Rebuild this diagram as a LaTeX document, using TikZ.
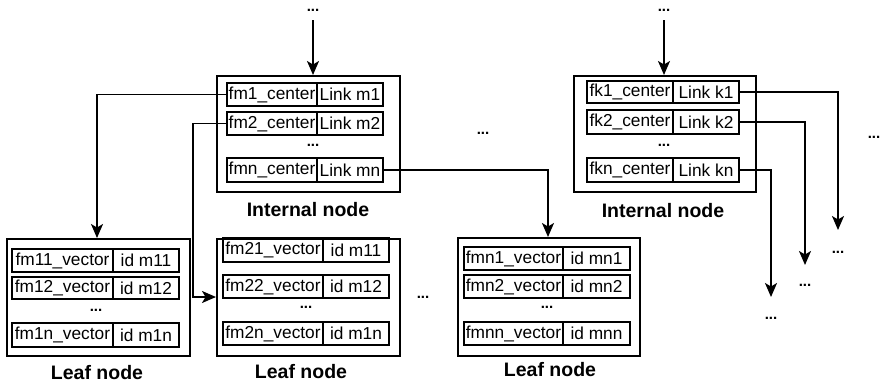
\documentclass[tikz,border=0pt]{standalone}
\usepackage{fontspec}
\setmainfont{Liberation Sans}
\usetikzlibrary{arrows.meta}

% row of a record: #1 name, #2 x, #3 y (top), #4 left width, #5 right width, #6 height, #7 left text, #8 right text
\newcommand{\recrow}[8]{%
  \node[cell, anchor=north west, minimum width=#4, minimum height=#6] (#1a) at (#2,#3) {#7};
  \node[cell, anchor=north west, minimum width=#5, minimum height=#6] (#1b) at (#1a.north east) {#8};
}

\begin{document}
\begin{tikzpicture}[x=1pt, y=-1pt,
  cell/.style={draw, line width=1.6pt, inner sep=0pt, outer sep=0pt,
    font=\fontsize{17.3}{19}\selectfont},
  frame/.style={draw, line width=1.6pt, inner sep=0pt},
  title/.style={font=\fontsize{19.5}{22}\selectfont\bfseries},
  dots/.style={font=\fontsize{15}{16}\selectfont\bfseries, inner sep=0pt},
  link/.style={line width=1.7pt, -{Stealth[length=14pt, width=12pt, inset=3.5pt]}}]

\useasboundingbox (0,0) rectangle (881,383);

% ---------- internal node m ----------
\node[frame, minimum width=183, minimum height=116, anchor=north west] (im) at (216,75) {};
\recrow{im1}{227}{83}{90}{66}{23}{fm1\_center}{Link m1}
\recrow{im2}{227}{112}{90}{66}{23}{fm2\_center}{Link m2}
\node[dots] (imd) at (313,145) {...};
\recrow{imn}{227}{158}{90}{66}{24}{fmn\_center}{Link mn}
\node[title] (imt) at (308,210) {Internal node};
\node[dots] (imtop) at (313,10) {...};

% ---------- internal node k ----------
\node[frame, minimum width=182, minimum height=116, anchor=north west] (ik) at (573,75) {};
\recrow{ik1}{587}{81}{86}{66}{22}{fk1\_center}{Link k1}
\recrow{ik2}{587}{110}{86}{66}{24}{fk2\_center}{Link k2}
\node[dots] (ikd) at (664,145) {...};
\recrow{ikn}{587}{158}{86}{66}{24}{fkn\_center}{Link kn}
\node[title] (ikt) at (663,211) {Internal node};
\node[dots] (iktop) at (664,10) {...};

\node[dots] (mid) at (483,133) {...};
\node[dots] (far) at (874,137) {...};

% ---------- leaf node m1 ----------
\node[frame, minimum width=183, minimum height=117, anchor=north west] (l1) at (6,238) {};
\recrow{l11}{12}{249}{101}{66}{23}{fm11\_vector}{id m11}
\recrow{l12}{12}{277}{101}{66}{22}{fm12\_vector}{id m12}
\node[dots] (l1d) at (96,310) {...};
\recrow{l1n}{12}{323}{101}{66}{24}{fm1n\_vector}{id m1n}
\node[title] (l1t) at (97,373) {Leaf node};

% ---------- leaf node m2 ----------
\node[frame, minimum width=183, minimum height=117, anchor=north west] (l2) at (216,238) {};
\recrow{l21}{223}{238}{100}{66}{24}{fm21\_vector}{id m11}
\recrow{l22}{223}{275}{100}{66}{23}{fm22\_vector}{id m12}
\node[dots] (l2d) at (306,307) {...};
\recrow{l2n}{223}{322}{100}{66}{23}{fm2n\_vector}{id m1n}
\node[title] (l2t) at (301,372) {Leaf node};

\node[dots] (mid2) at (423,297) {...};

% ---------- leaf node mn ----------
\node[frame, minimum width=182, minimum height=118, anchor=north west] (l3) at (457,237) {};
\recrow{l31}{464}{247}{99}{67}{23}{fmn1\_vector}{id mn1}
\recrow{l32}{464}{275}{99}{67}{23}{fmn2\_vector}{id mn2}
\node[dots] (l3d) at (547,307) {...};
\recrow{l3n}{464}{322}{99}{67}{23}{fmnn\_vector}{id mnn}
\node[title] (l3t) at (550,370) {Leaf node};

% ---------- dangling targets of node k ----------
\node[dots] (k1d) at (838,252) {...};
\node[dots] (k2d) at (805,285) {...};
\node[dots] (knd) at (771,318) {...};
\coordinate (k1e) at (838,230);
\coordinate (k2e) at (805,265);
\coordinate (kne) at (771,297);

% ---------- connectors ----------
\draw[link, shorten <=9pt] (imtop.south) -- (imtop.south |- im.north);
\draw[link, shorten <=9pt] (iktop.south) -- (iktop.south |- ik.north);
\draw[link] (im1a.west) -| (l1.north -| 97,0);
\draw[link] (im2a.west) -- ++(-34,0) |- (l2.west |- 0,297);
\draw[link] (imnb.east) -| (l3.north -| 548,0);
\draw[link] (ik1b.east) -| (k1e);
\draw[link] (ik2b.east) -| (k2e);
\draw[link] (iknb.east) -| (kne);

\end{tikzpicture}
\end{document}
